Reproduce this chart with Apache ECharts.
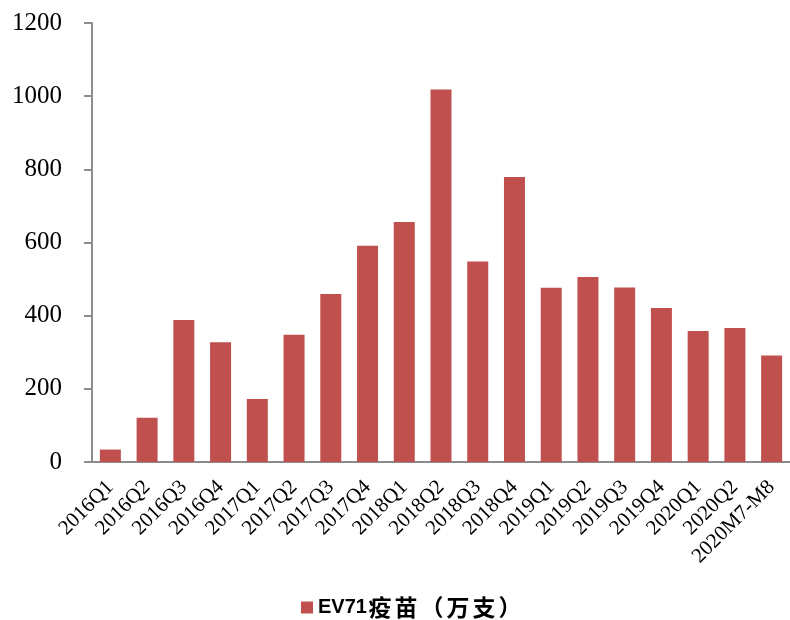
<!DOCTYPE html>
<html><head><meta charset="utf-8">
<script src="https://cdn.jsdelivr.net/npm/echarts@6/dist/echarts.min.js"></script>
<style>html,body{margin:0;padding:0;background:#fff}#c{width:790px;height:620px}</style>
</head><body><div id="c"></div>
<script>
var categories = ['2016Q1','2016Q2','2016Q3','2016Q4','2017Q1','2017Q2','2017Q3','2017Q4','2018Q1','2018Q2','2018Q3','2018Q4','2019Q1','2019Q2','2019Q3','2019Q4','2020Q1','2020Q2','2020M7-M8'];
var values = [34, 121, 388, 327, 172, 348, 459, 591, 656, 1018, 548, 779, 476, 506, 477, 421, 358, 366, 291];
var seriesName = 'EV71疫苗（万支）';
var yTicks = {min: 0, max: 1200, interval: 200};

var chart = echarts.init(document.getElementById('c'), null, {renderer: 'canvas'});
chart.setOption({
  animation: false,
  backgroundColor: '#fff',
  grid: {left: 92, top: 23, bottom: 158, width: 702},
  legend: {
    top: 591, left: 296,
    itemWidth: 12, itemHeight: 12, itemGap: 5,
    icon: 'rect',
    textStyle: {
      fontFamily: 'Noto Sans CJK SC', fontWeight: 'bold', fontSize: 22, color: '#000',
      rich: {
        a: {fontFamily: 'Liberation Sans', fontWeight: 'bold', fontSize: 20, color: '#000'},
        c: {fontFamily: 'Noto Sans CJK SC', fontWeight: 'bold', fontSize: 23, color: '#000', width: 26, align: 'center'}
      }
    },
    formatter: function (name) {
      var m = name.match(/^[A-Za-z0-9]+/);
      var head = m ? m[0] : '';
      var rest = name.slice(head.length).split('');
      return '{a|' + head + '}' + rest.map(function (ch) { return '{c|' + ch + '}'; }).join('');
    },
    data: [seriesName]
  },
  xAxis: {
    type: 'category',
    data: categories,
    axisLine: {lineStyle: {color: '#8c8c8c', width: 2}},
    axisTick: {show: false},
    axisLabel: {rotate: 45, interval: 0, margin: 22, color: '#000', fontFamily: 'Liberation Serif', fontSize: 21}
  },
  yAxis: {
    type: 'value',
    min: yTicks.min, max: yTicks.max, interval: yTicks.interval,
    splitLine: {show: false},
    axisLine: {show: true, lineStyle: {color: '#8c8c8c', width: 2}},
    axisTick: {show: true, inside: false, length: 8, lineStyle: {color: '#8c8c8c', width: 2}},
    axisLabel: {margin: 30, color: '#000', fontFamily: 'Liberation Serif', fontSize: 25, formatter: function (v) { return String(v); }}
  },
  series: [{
    name: seriesName,
    type: 'bar',
    data: values,
    barWidth: 21,
    itemStyle: {color: '#C0504D'}
  }]
});
</script></body></html>
